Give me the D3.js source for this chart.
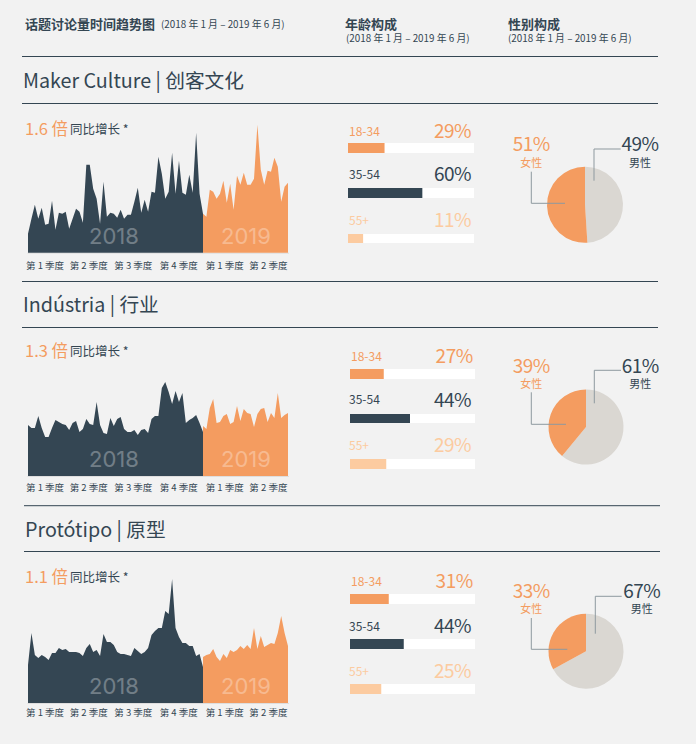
<!DOCTYPE html>
<html>
<head>
<meta charset="utf-8">
<script src="https://cdn.jsdelivr.net/npm/d3@7"></script>
<style>
  html, body { margin: 0; padding: 0; background: #f2f2f2; }
  text { font-family: "Noto Sans CJK SC", "Noto Sans", sans-serif; }
</style>
</head>
<body>
<svg id="chart" width="696" height="744"></svg>
<script>
const navy = "#344653";
const orange = "#f49c60";
const pale = "#fccba0";
const grey = "#dad7d2";

// topic titles and growth
const titles = ["Maker Culture | 创客文化", "Indústria | 行业", "Protótipo | 原型"];
const growth = ["1.6 倍", "1.3 倍", "1.1 倍"];
const quarters = ["第 1 季度", "第 2 季度", "第 3 季度", "第 4 季度", "第 1 季度", "第 2 季度"];
const quarterPos = [0, 13, 26.3, 39.8, 53.5, 66.5];
const ageGroups = ["18-34", "35-54", "55+"];

// weekly volume
const maker2018 = [19,34,48,34,45,28,29,52,23,40,39,41,24,34,44,41,30,88,88,64,54,29,71,36,40,39,35,43,34,38,38,51,65,40,53,41,61,60,96,79,54,61,100,59,92,60,58,78,60,120,59,39];
const maker2019 = [39,36,63,61,54,59,72,50,69,43,77,68,80,68,68,74,128,83,68,82,81,95,86,51,66,70];
const industry2018 = [51,48,48,60,48,39,39,48,56,54,52,51,46,53,55,44,47,57,52,51,74,51,43,42,58,50,57,59,47,44,44,46,41,46,47,43,57,60,60,88,94,84,72,85,74,83,53,56,58,61,53,44];
const industry2019 = [50,47,68,77,53,54,60,62,52,54,70,55,67,63,62,49,62,67,68,54,63,58,83,58,61,63];
const proto2018 = [38,70,48,45,48,46,43,50,50,55,53,54,51,51,51,50,47,55,59,51,53,47,69,61,61,58,51,49,49,48,47,55,52,49,51,55,68,72,75,75,92,89,124,75,66,60,60,57,57,47,49,36];
const proto2019 = [46,48,49,54,46,42,49,45,53,51,53,57,54,58,54,75,54,67,56,58,60,59,70,87,70,57];

const series2018 = [maker2018, industry2018, proto2018];
const series2019 = [maker2019, industry2019, proto2019];

// printed percentages, and the lengths the bars are really drawn at
const agePct = [[29, 60, 11], [27, 44, 29], [31, 44, 25]];
const ageBar = [[29, 59, 12], [27, 48, 29], [31, 43, 25]];
const femalePct = [51, 39, 33];
const malePct = [49, 61, 67];

// layout of each block
const blocks = [
  { topRule: 56.5, titleY: 88, midRule: 103.5, growthY: 135, growthY2: 133.5, base: 252.7, quarterY: 268.5, rx: 22, rEnd: 658, titleX: 23,
    barX: 348, barW: 126, barY: [143, 188, 234], barH: [10, 10, 9], labelX: [349, 349, 349], labelY: [136, 179, 225], pctY: [137.7, 181, 226.7], pctX: [471, 471, 471],
    pieX: 585, pieY: 204.8, pieR: 38, maleLine: [594, 180.7, 149, 620.7], femaleLine: [531.3, 171.7, 203.3, 565], pctLabelY: 150.7, sexLabelY: 166.7, maleLabelX: 640 },
  { topRule: 281.5, titleY: 312, midRule: 327.5, growthY: 356.7, growthY2: 356, base: 476, quarterY: 490.7, rx: 22, rEnd: 658, titleX: 23,
    barX: 350, barW: 125, barY: [369, 414, 459], barH: [10, 9, 10], labelX: [351, 349, 349], labelY: [361, 404, 450], pctY: [362.7, 406.7, 451.7], pctX: [472.7, 471, 471],
    pieX: 586, pieY: 427, pieR: 37.5, maleLine: [594.3, 403.3, 370.3, 621], femaleLine: [531.3, 392.3, 424.3, 566], pctLabelY: 373.3, sexLabelY: 388.3, maleLabelX: 640.3 },
  { topRule: 505.7, titleY: 537, midRule: 551.5, growthY: 583.3, growthY2: 582.3, base: 703, quarterY: 716.3, rx: 24, rEnd: 660, titleX: 25,
    barX: 350, barW: 125, barY: [594, 639, 684], barH: [10, 10, 10], labelX: [351, 349, 349], labelY: [586, 631, 675.7], pctY: [587.7, 633, 678], pctX: [472.7, 471, 471],
    pieX: 586, pieY: 651.3, pieR: 37.5, maleLine: [595.3, 633.7, 596.3, 621.7], femaleLine: [531.3, 618, 649.3, 567.3], pctLabelY: 598.3, sexLabelY: 613.3, maleLabelX: 641.7 }
];

const svg = d3.select("#chart");

function txt(x, y, s, size, fill, weight, anchor) {
  return svg.append("text")
    .attr("x", x).attr("y", y)
    .attr("font-size", size)
    .attr("fill", fill)
    .attr("font-weight", weight || 400)
    .attr("text-anchor", anchor || "start")
    .text(s);
}

// header
txt(25, 29, "话题讨论量时间趋势图", 13, navy, 700);
txt(161, 28, "(2018 年 1 月 – 2019 年 6 月)", 9.85, navy);
txt(345, 29, "年龄构成", 13, navy, 700);
txt(346, 42, "(2018 年 1 月 – 2019 年 6 月)", 9.85, navy);
txt(508, 29, "性别构成", 13, navy, 700);
txt(508, 42, "(2018 年 1 月 – 2019 年 6 月)", 9.85, navy);

const h = d3.scaleLinear().domain([0, 130]).range([0, 130]);
const x2018 = d3.scaleLinear().domain([0, 51]).range([28, 203]);
const x2019 = d3.scaleLinear().domain([0, 25]).range([203, 288]);
const xQuarter = d3.scaleLinear().domain([0, 78]).range([26, 288]);
const pctScale = d3.scaleLinear().domain([0, 100]).range([0, 1]);

blocks.forEach((b, i) => {
  [b.topRule, b.midRule].forEach(y => {
    svg.append("line")
      .attr("x1", b.rx).attr("x2", b.rEnd)
      .attr("y1", y).attr("y2", y)
      .attr("stroke", navy).attr("stroke-width", 1);
  });

  txt(b.titleX, b.titleY, titles[i], 19.7, navy);
  txt(25, b.growthY, growth[i], 16.5, orange);
  txt(70, b.growthY2, "同比增长 *", 12.5, navy);

  const y = v => b.base - h(v);

  const area2018 = d3.area().x((d, j) => x2018(j)).y0(b.base).y1(d => y(d));
  const area2019 = d3.area().x((d, j) => x2019(j)).y0(b.base).y1(d => y(d));

  // faint edge under the areas
  svg.append("line")
    .attr("x1", 27.5).attr("x2", 289)
    .attr("y1", b.base + 0.5).attr("y2", b.base + 0.5)
    .attr("stroke", "#dedede").attr("stroke-width", 1);

  svg.append("path").attr("d", area2018(series2018[i])).attr("fill", navy);
  svg.append("path").attr("d", area2019(series2019[i])).attr("fill", orange);

  txt(114, b.base - 9, "2018", 22, "#fff", 400, "middle")
    .style("font-family", "Inter").attr("opacity", 0.3);
  txt(246, b.base - 9, "2019", 22, "#fff", 400, "middle")
    .style("font-family", "Inter").attr("opacity", 0.3);

  quarters.forEach((q, k) => {
    txt(xQuarter(quarterPos[k]), b.quarterY, q, 9.5, navy);
  });

  // age bars
  const ageCol = [orange, navy, pale];
  ageGroups.forEach((g, k) => {
    txt(b.labelX[k], b.labelY[k], g, 12, ageCol[k]);
    txt(b.pctX[k], b.pctY[k], agePct[i][k] + "%", 19, ageCol[k], 400, "end")
      .attr("letter-spacing", -0.5);
    svg.append("rect")
      .attr("x", b.barX).attr("y", b.barY[k])
      .attr("width", b.barW).attr("height", b.barH[k])
      .attr("fill", "#fff");
    svg.append("rect")
      .attr("x", b.barX).attr("y", b.barY[k])
      .attr("width", b.barW * pctScale(ageBar[i][k])).attr("height", b.barH[k])
      .attr("fill", ageCol[k]);
  });

  // pie, male slice first going clockwise from the top
  const pie = d3.pie().sort(null);
  const arc = d3.arc().innerRadius(0).outerRadius(b.pieR);
  const pg = svg.append("g").attr("transform", `translate(${b.pieX},${b.pieY})`);
  pg.selectAll("path")
    .data(pie([malePct[i], femalePct[i]]))
    .enter()
    .append("path")
    .attr("d", arc)
    .attr("fill", (d, k) => k === 0 ? grey : orange);

  // leader lines and labels
  const [mx, my0, my1, mx1] = b.maleLine;
  const [fx, fy0, fy1, fx1] = b.femaleLine;
  svg.append("path")
    .attr("d", `M${mx},${my0}V${my1}H${mx1}`)
    .attr("fill", "none").attr("stroke", "#8e999f").attr("stroke-width", 1);
  svg.append("path")
    .attr("d", `M${fx},${fy0}V${fy1}H${fx1}`)
    .attr("fill", "none").attr("stroke", "#8e999f").attr("stroke-width", 1);
  txt(531.3, b.pctLabelY, femalePct[i] + "%", 19, orange, 400, "middle").attr("letter-spacing", -0.5);
  txt(531.3, b.sexLabelY, "女性", 11, orange, 400, "middle");
  txt(b.maleLabelX, b.pctLabelY, malePct[i] + "%", 19, navy, 400, "middle").attr("letter-spacing", -0.5);
  txt(b.maleLabelX, b.sexLabelY, "男性", 11, navy, 400, "middle");
});
</script>
</body>
</html>
